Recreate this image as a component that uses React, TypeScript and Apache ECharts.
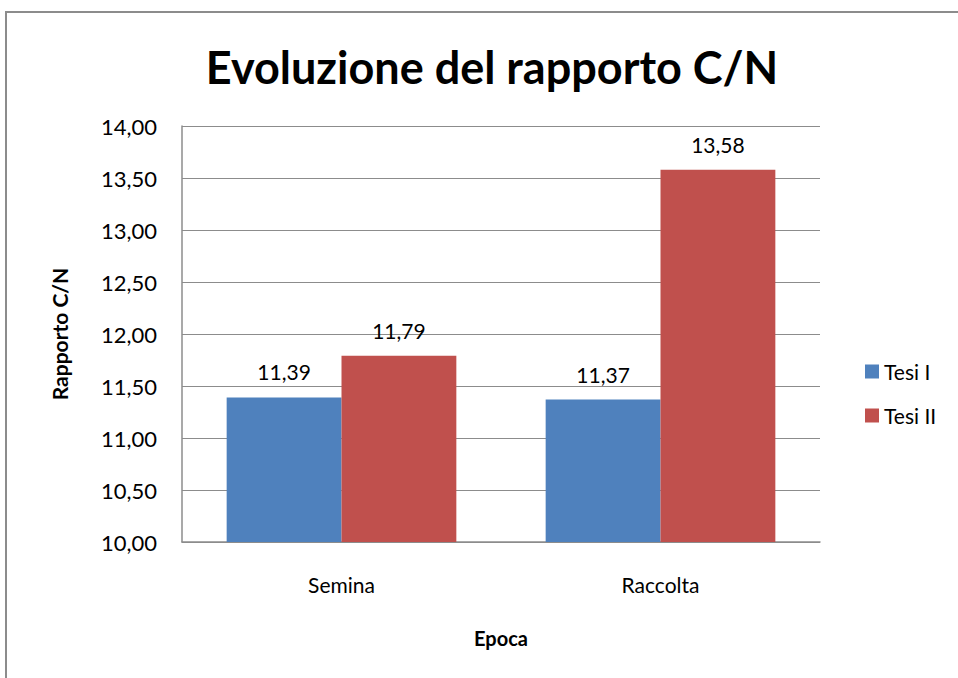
import React, { useEffect, useRef } from "react";
import * as echarts from "echarts";

const categories = ["Semina", "Raccolta"];
const tesi1 = [11.39, 11.37];
const tesi2 = [11.79, 13.58];
const seriesNames = ["Tesi I", "Tesi II"];
const titleText = "Evoluzione del rapporto C/N";
const yMin = 10;
const yMax = 14;
const yStep = 0.5;

const FONT = "Lato, 'Open Sans', sans-serif";
const fmt = (v: number) => v.toFixed(2).replace(".", ",");

export default function App() {
  const ref = useRef<HTMLDivElement>(null);
  useEffect(() => {
    if (!ref.current) return;
    const chart = echarts.init(ref.current, null, { renderer: "svg" });
    chart.setOption({
      animation: false,
      backgroundColor: "#ffffff",
      textStyle: { fontFamily: FONT },
      graphic: [
        {
          type: "rect",
          shape: { x: 6, y: 12, width: 1000, height: 700 },
          style: { fill: "none", stroke: "#8c8c8c", lineWidth: 2 },
          silent: true,
        },
        {
          type: "text",
          x: 492,
          y: 67,
          style: {
            text: titleText,
            textAlign: "center",
            textVerticalAlign: "middle",
            fontFamily: FONT,
            fontSize: 45,
            fontWeight: "bold",
            fill: "#000",
          },
        },
      ],
      legend: {
        orient: "vertical",
        left: 860,
        top: 356,
        itemWidth: 14,
        itemHeight: 14,
        itemGap: 23,
        icon: "rect",
        data: seriesNames,
        textStyle: { fontFamily: FONT, fontSize: 21, color: "#000" },
      },
      grid: { left: 182, right: 138, top: 126, bottom: 136, containLabel: false },
      xAxis: {
        type: "category",
        data: categories,
        name: "Epoca",
        nameLocation: "middle",
        nameGap: 86,
        nameTextStyle: { fontFamily: FONT, fontSize: 20, fontWeight: "bold", color: "#000" },
        axisLine: { lineStyle: { color: "#8c8c8c", width: 1.5 } },
        axisTick: { show: false },
        axisLabel: { fontFamily: FONT, fontSize: 21, color: "#000", margin: 32 },
      },
      yAxis: {
        type: "value",
        min: yMin,
        max: yMax,
        interval: yStep,
        name: "Rapporto C/N",
        nameLocation: "middle",
        nameGap: 112,
        nameTextStyle: { fontFamily: FONT, fontSize: 21, fontWeight: "bold", color: "#000" },
        axisLine: { show: true, lineStyle: { color: "#8c8c8c", width: 1.5 } },
        axisTick: { show: false },
        axisLabel: { fontFamily: FONT, fontSize: 22, color: "#000", margin: 25, formatter: (v: number) => fmt(v) },
        splitLine: { lineStyle: { color: "#8c8c8c", width: 1.2 } },
      },
      series: [
        {
          name: seriesNames[0],
          type: "bar",
          data: tesi1,
          barGap: "0%",
          barCategoryGap: "28%",
          itemStyle: { color: "#4F81BD" },
          label: { show: true, position: "top", distance: 15, fontFamily: FONT, fontSize: 21, color: "#000", formatter: (p: any) => fmt(p.value) },
        },
        {
          name: seriesNames[1],
          type: "bar",
          data: tesi2,
          barGap: "0%",
          barCategoryGap: "28%",
          itemStyle: { color: "#C0504D" },
          label: { show: true, position: "top", distance: 15, fontFamily: FONT, fontSize: 21, color: "#000", formatter: (p: any) => fmt(p.value) },
        },
      ],
    });
    return () => chart.dispose();
  }, []);
  return <div ref={ref} style={{ position: "absolute", left: 0, top: 0, width: 958, height: 678 }} />;
}
